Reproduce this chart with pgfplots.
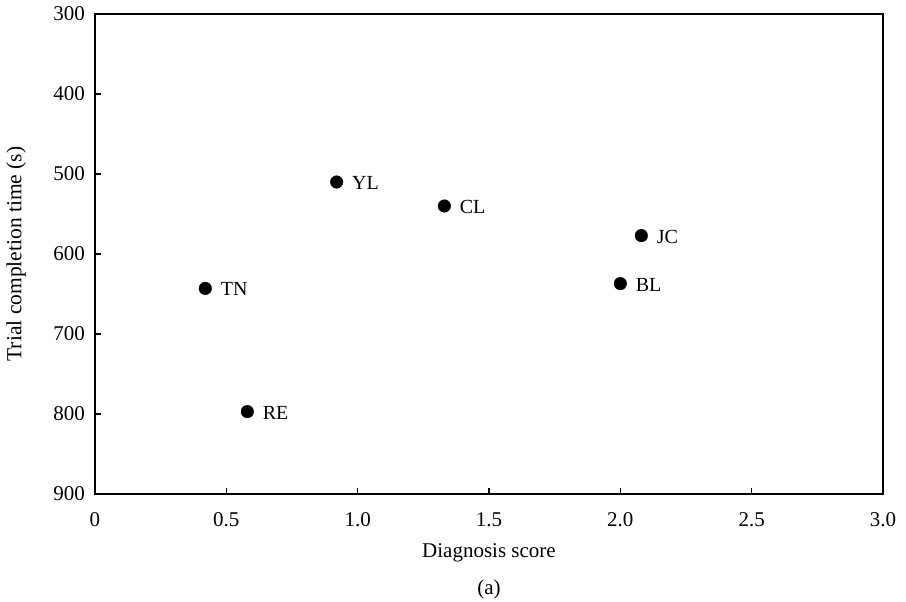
\documentclass[border=0pt]{standalone}
\usepackage{fontspec}
\setmainfont{Liberation Serif}
\usepackage{pgfplots}
\pgfplotsset{compat=1.18}
\begin{document}
\begin{tikzpicture}
\path[use as bounding box] (0,0) rectangle (906pt,602pt);
\begin{axis}[
  at={(95pt,108pt)}, anchor=south west,
  scale only axis, width=788pt, height=480pt,
  xmin=0, xmax=3, ymin=300, ymax=900, y dir=reverse,
  xtick={0,0.5,1,1.5,2,2.5,3},
  xticklabels={0,0.5,1.0,1.5,2.0,2.5,3.0},
  ytick={300,400,500,600,700,800,900},
  tick pos=left, tick align=inside,
  major tick length=6pt,
  axis line style={line width=2.4pt},
  tick style={black, line width=1.1pt},
  /pgf/number format/assume math mode=true,
  ticklabel style={font=\fontsize{21}{24}\selectfont},
  xticklabel style={yshift=-15pt},
  yticklabel style={xshift=-6.5pt},
  xlabel={Diagnosis score},
  xlabel style={font=\fontsize{21}{24}\selectfont, at={(axis description cs:0.5,0)}, anchor=center, yshift=-59pt},
  ylabel={Trial completion time (s)},
  ylabel style={font=\fontsize{21.5}{24}\selectfont, at={(axis description cs:-0.1,0.5)}, anchor=center, rotate=0},
  clip=false,
]
\addplot[only marks, mark=*, mark size=6.3pt, line width=0.4pt, black,
  nodes near coords, point meta=explicit symbolic,
  every node near coord/.style={anchor=west, xshift=12pt, yshift=-1pt, font=\fontsize{20}{24}\selectfont, black}]
  table[meta=lab] {
x y lab
0.42 643 TN
0.58 797 RE
0.92 510 YL
1.33 540 CL
2.00 637 BL
2.08 577 JC
};
\node[font=\fontsize{21}{24}\selectfont] at (axis description cs:0.5,0) [yshift=-95pt] {(a)};
\end{axis}
\end{tikzpicture}
\end{document}
